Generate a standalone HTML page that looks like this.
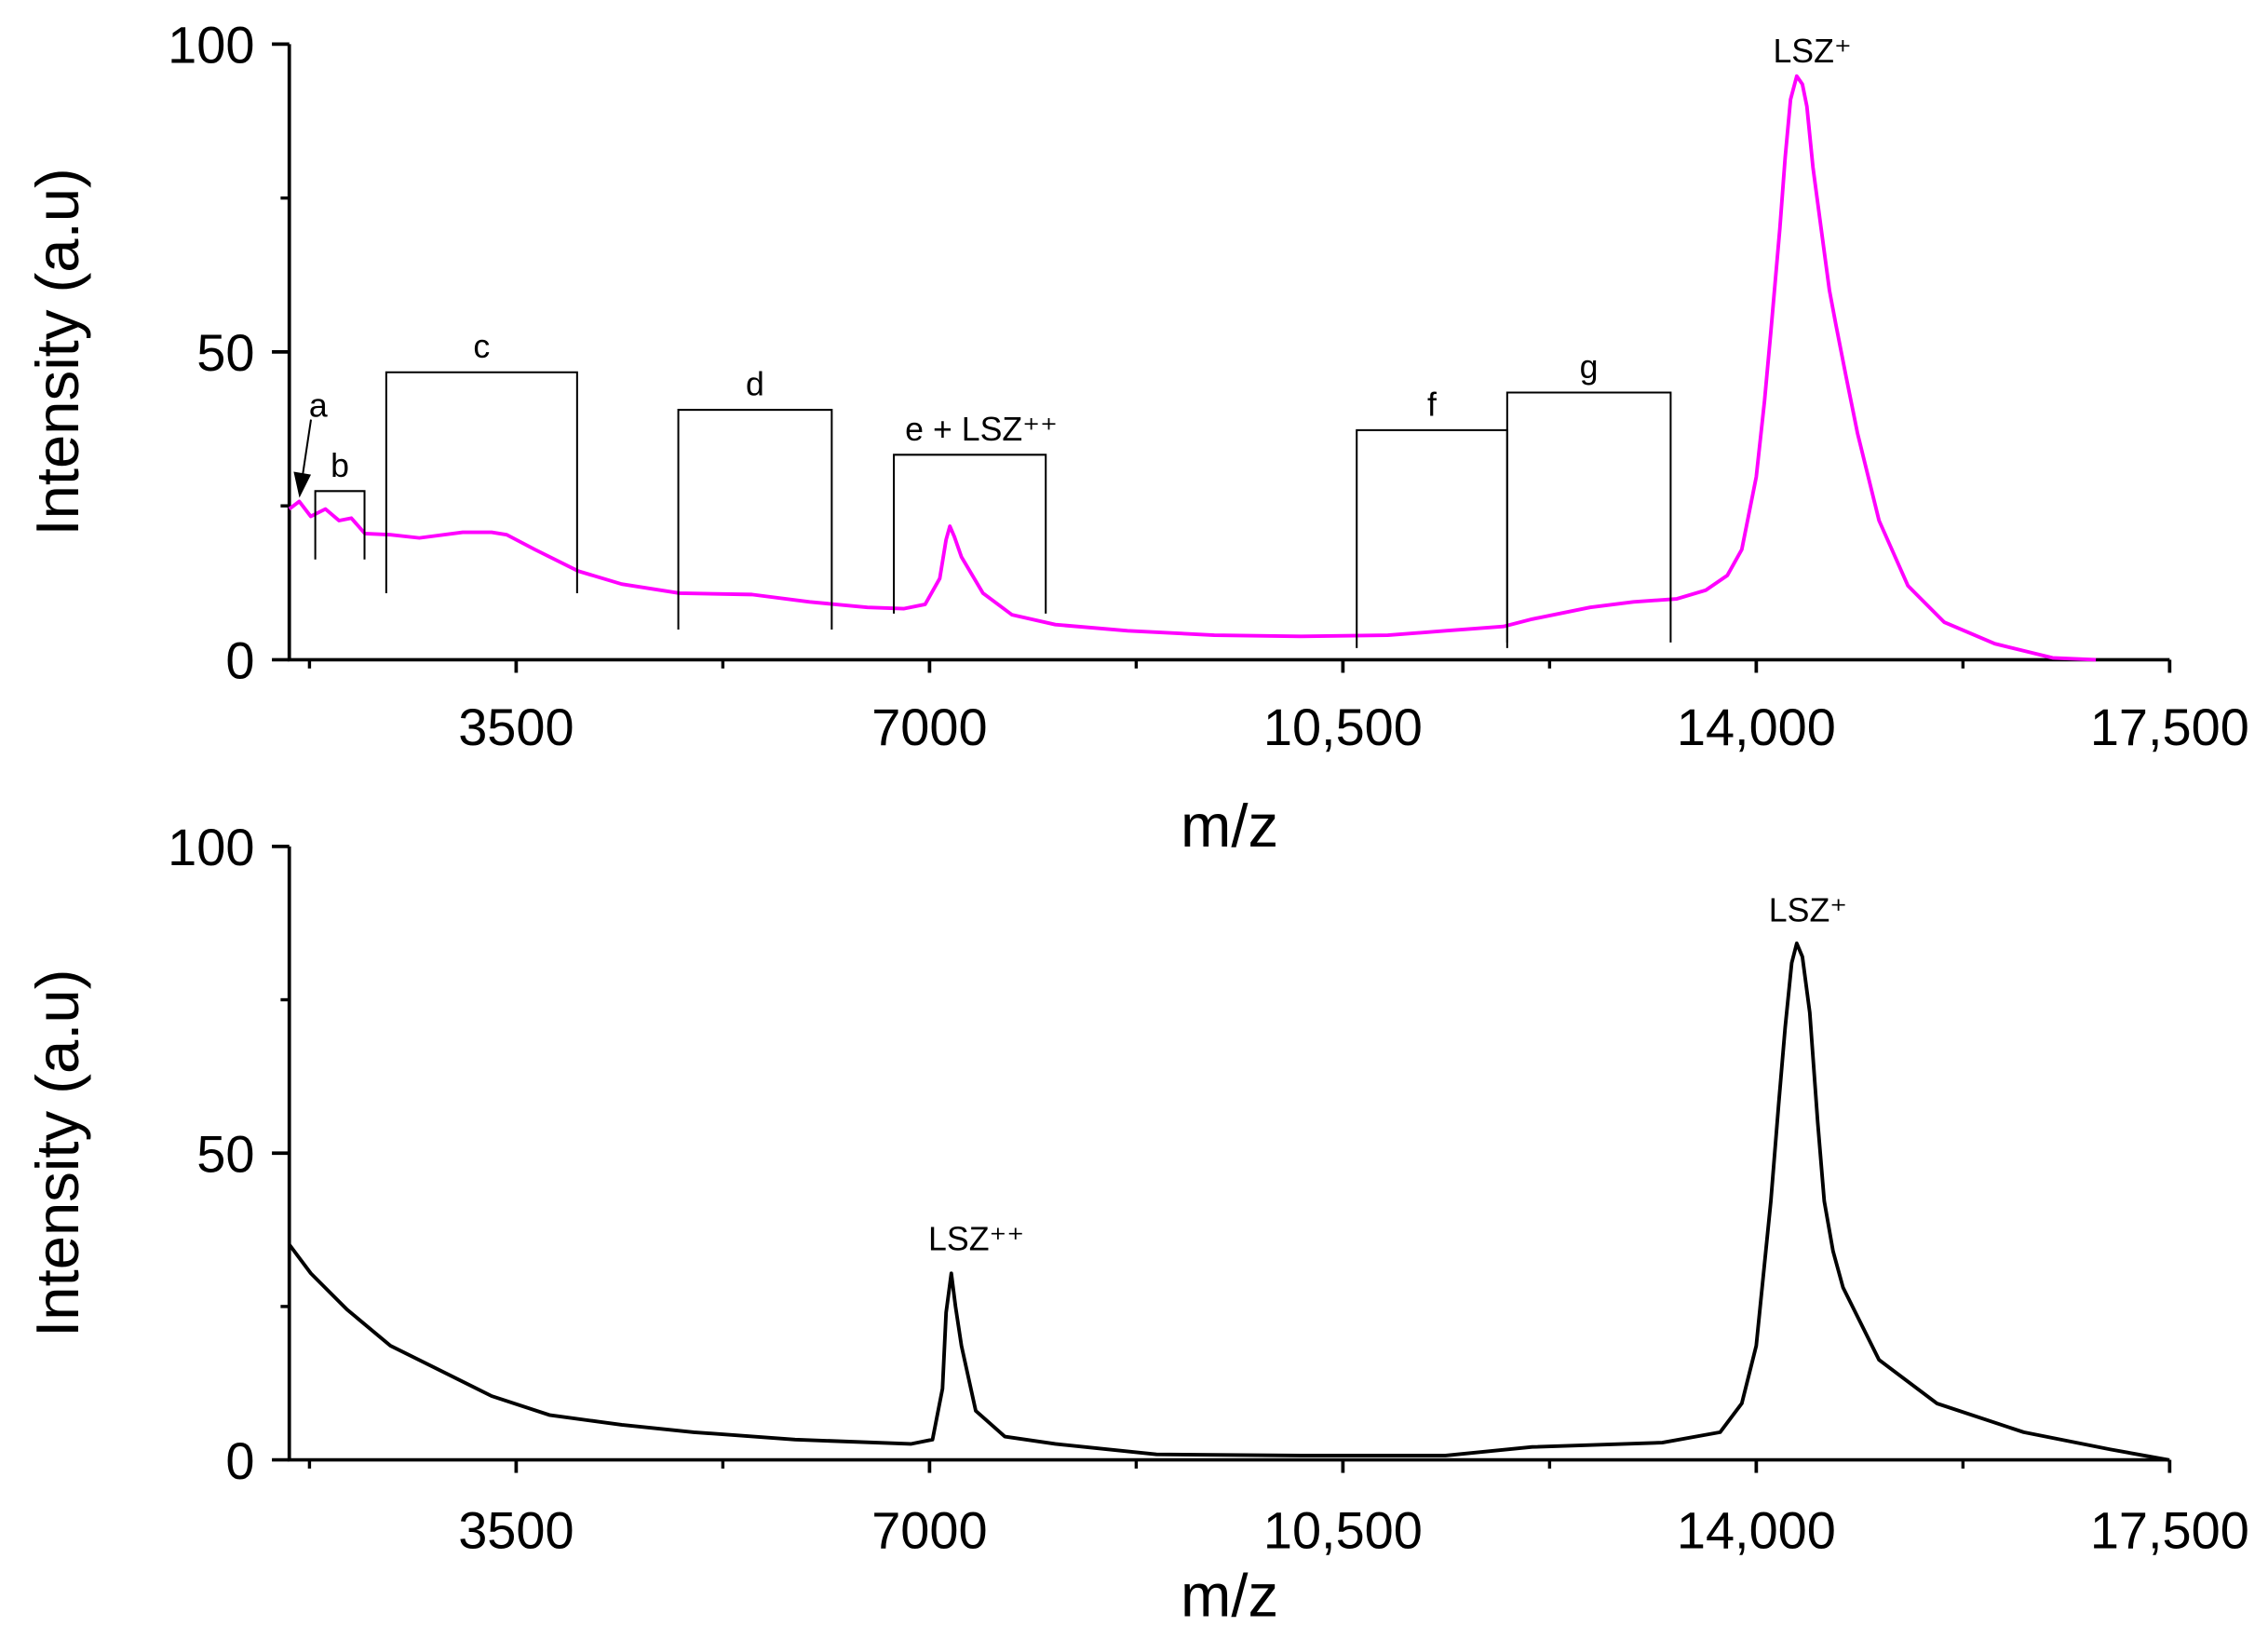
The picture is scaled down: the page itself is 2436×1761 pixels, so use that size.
<!DOCTYPE html>
<html><head><meta charset="utf-8"><style>
html,body{margin:0;padding:0;background:#fff;}
svg{display:block;font-family:"Liberation Sans",Arial,sans-serif;}
</style></head><body>
<svg id="fig" width="2436" height="1761" viewBox="0 0 1568 1133.5" xmlns="http://www.w3.org/2000/svg">
<g id="top"></g>
<g id="bot"></g>
</svg>
<script>
const xTicksMajor = [3500, 7000, 10500, 14000, 17500];
const xTickLabels = ["3500", "7000", "10,500", "14,000", "17,500"];
const xTicksMinor = [1750, 5250, 8750, 12250, 15750];
const yTicksMajor = [0, 50, 100];
const yTicksMinor = [25, 75];
const topMz = [1579,1664,1760,1885,2000,2105,2220,2435,2680,3047,3292,3420,3659,4026,4393,4883,5495,5984,6474,6780,6963,7086,7140,7172,7210,7270,7453,7698,8065,8677,9411,10145,10880,11369,11859,12103,12593,12960,13327,13572,13755,13877,14000,14070,14123,14200,14245,14290,14343,14390,14429,14480,14551,14620,14674,14760,14857,15040,15285,15591,16019,16509,16876];
const topInt = [24.5,25.7,23.3,24.5,22.6,23,20.5,20.3,19.8,20.7,20.7,20.3,17.9,14.4,12.3,10.8,10.6,9.4,8.5,8.3,9,13.2,19.5,21.7,20,16.7,10.8,7.3,5.7,4.7,4.0,3.8,4.0,4.7,5.4,6.6,8.5,9.4,9.9,11.3,13.7,17.9,29.7,42,53.3,70,81.6,91,94.8,93.5,89.9,80,69.8,60,54.5,46,36.8,22.6,12,6.1,2.6,0.3,0];
const botMz = [1579,1762,2068,2435,2802,3292,3781,4393,5005,5862,6841,7025,7110,7140,7184,7220,7270,7392,7637,8065,8922,10145,11369,12103,13204,13694,13877,14000,14123,14190,14245,14300,14343,14390,14453,14520,14576,14650,14735,15040,15530,16264,16999,17488];
const botInt = [35.1,30.4,24.5,18.6,15.1,10.4,7.3,5.7,4.5,3.3,2.6,3.3,11.6,24,30.4,25,18.6,8.0,3.8,2.6,0.9,0.7,0.7,2.1,2.8,4.5,9.2,18.6,42.2,58,70.5,81,84.2,82,72.9,55,42.2,34,28.1,16.3,9.2,4.5,1.7,0];
// bracket annotations
const bracketLabels = ["b","c","d","e + LSZ⁺⁺","f","g"];
const bracketStart = [1799,2400,4873,6698,10617,11891];
const bracketEnd = [2216,4016,6172,7984,11891,13275];
const bracketTop = [27.4,46.7,40.6,33.3,37.3,43.4];
const bracketBottom = [16.3,10.8,4.9,7.5,1.9,2.8];

const NS="http://www.w3.org/2000/svg";
const X0=200, X1=1500, XMIN=1579, XMAX=17500;
function xs(v){return X0+(v-XMIN)*(X1-X0)/(XMAX-XMIN);}
function mk(parent,tag,attrs,text){const e=document.createElementNS(NS,tag);for(const k in attrs)e.setAttribute(k,attrs[k]);if(text!==undefined)e.textContent=text;parent.appendChild(e);return e;}

function panel(g,y0,y100,mz,inten,color,pfx,labelY,titleY){
  const ys=v=>y0+(y100-y0)*v/100;
  const ax=mk(g,'path',{d:`M${X0},${y100} V${y0} H${X1}`,stroke:'#000','stroke-width':2.4,fill:'none'});
  
  
  xTicksMajor.forEach((t,i)=>{
    const tk=mk(g,'line',{x1:xs(t),x2:xs(t),y1:y0,y2:y0+9,stroke:'#000','stroke-width':2.4});
    
    
    const lb=mk(g,'text',{x:xs(t),y:labelY,'text-anchor':'middle','font-size':36},xTickLabels[i]);
    
    
  });
  xTicksMinor.forEach(t=>{
    const tk=mk(g,'line',{x1:xs(t),x2:xs(t),y1:y0,y2:y0+6,stroke:'#000','stroke-width':2.2});
    
    
  });
  yTicksMajor.forEach(t=>{
    const tk=mk(g,'line',{x1:X0-12,x2:X0,y1:ys(t),y2:ys(t),stroke:'#000','stroke-width':2.4});
    
    
    const lb=mk(g,'text',{x:X0-24,y:ys(t)+13,'text-anchor':'end','font-size':36},String(t));
    
    
  });
  yTicksMinor.forEach(t=>{
    const tk=mk(g,'line',{x1:X0-6,x2:X0,y1:ys(t),y2:ys(t),stroke:'#000','stroke-width':2.2});
    
    
  });
  const xt=mk(g,'text',{x:850,y:titleY,'text-anchor':'middle','font-size':42},'m/z');
  
  
  const yc=(y0+y100)/2;
  const yt=mk(g,'text',{x:0,y:0,'text-anchor':'middle','font-size':42,transform:`translate(54,${yc}) rotate(-90)`},'Intensity (a.u)');
  
  
  const pts=mz.map((m,i)=>xs(m).toFixed(1)+','+ys(inten[i]).toFixed(1)).join(' ');
  const ln=mk(g,'polyline',{points:pts,fill:'none',stroke:color,'stroke-width':2.5,'stroke-linejoin':'round'});
  
  
  return ys;
}

const gt=document.getElementById('top'), gb=document.getElementById('bot');
const ysT=panel(gt,456,30.5,topMz,topInt,'#ff00ff','top',515,585);
const ysB=panel(gb,1009,585,botMz,botInt,'#000','bottom',1070,1117);

bracketLabels.forEach((l,i)=>{
  const x1=xs(bracketStart[i]), x2=xs(bracketEnd[i]), yt=ysT(bracketTop[i]), yb=ysT(bracketBottom[i]);
  const br=mk(gt,'path',{d:`M${x1},${yb} V${yt} H${x2} V${yb}`,fill:'none',stroke:'#000','stroke-width':1.3});
  
  
  const tx=mk(gt,'text',{x:(x1+x2)/2+(i===3?8:0),y:yt-10,'text-anchor':'middle','font-size':23},l);
  
  
});
const ar=mk(gt,'line',{x1:215,y1:290,x2:209,y2:330,stroke:'#000','stroke-width':1.3});


const ah=mk(gt,'polygon',{points:'203,326 215,328 207,344',fill:'#000'});


const la=mk(gt,'text',{x:220,y:288,'text-anchor':'middle','font-size':23},'a');


const p1=mk(gt,'text',{x:1253,y:43,'text-anchor':'middle','font-size':23},'LSZ⁺');


const p2=mk(gb,'text',{x:1250,y:637,'text-anchor':'middle','font-size':23},'LSZ⁺');


const p3=mk(gb,'text',{x:675,y:864,'text-anchor':'middle','font-size':23},'LSZ⁺⁺');


</script>
</body></html>
